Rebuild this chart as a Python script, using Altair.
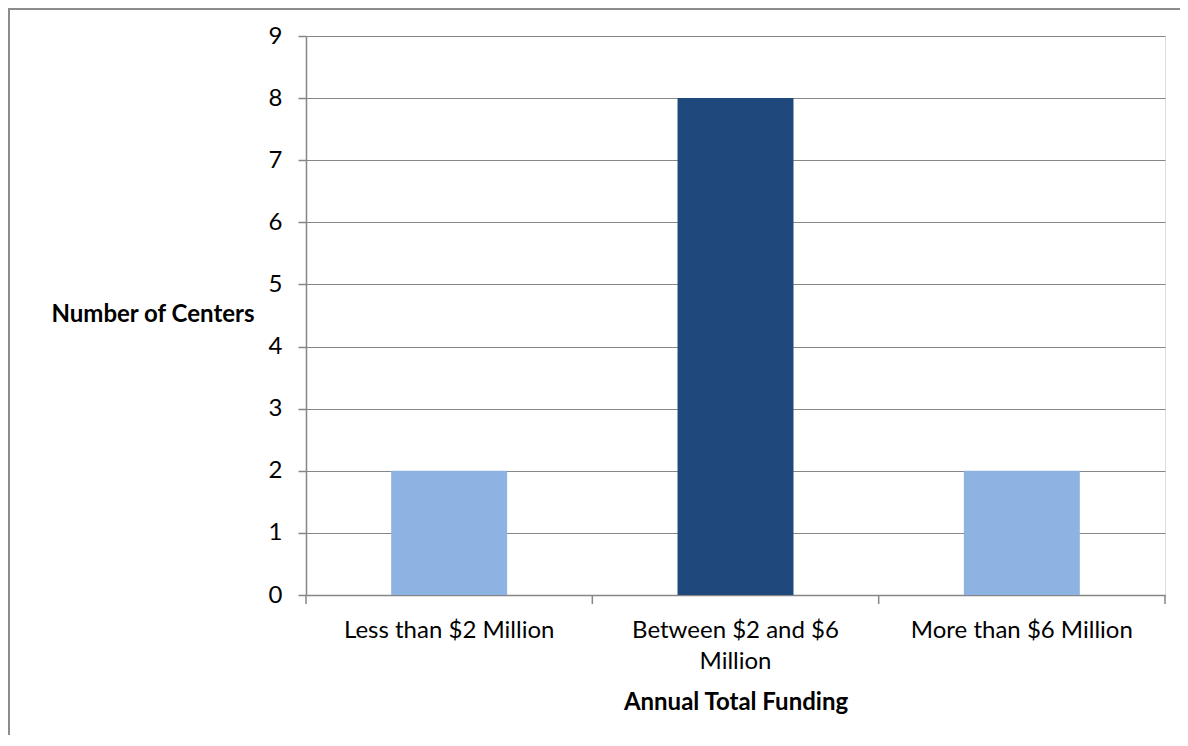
import altair as alt
import pandas as pd

categories = ["Less than $2 Million", "Between $2 and $6 Million", "More than $6 Million"]
centers = [2, 8, 2]
bar_colors = ["#8DB3E2", "#1F497D", "#8DB3E2"]
y_ticks = [0, 1, 2, 3, 4, 5, 6, 7, 8, 9]

df = pd.DataFrame({"funding": categories, "centers": centers, "color": bar_colors})

W, H = 859, 559
FONT = "Lato"
GRAY = "#868686"

x_scale = alt.Scale(domain=categories, paddingInner=0, paddingOuter=0)

label_expr = ("datum.label == 'Between $2 and $6 Million' ? "
              "['Between $2 and $6', 'Million'] : datum.label")

x_axis = alt.Axis(
    title="Annual Total Funding", labelAngle=0, ticks=False, tickSize=0,
    domain=True, domainColor=GRAY, domainWidth=1.5, grid=False,
    labelFont=FONT, labelFontSize=24, labelColor="black", labelPadding=23,
    labelBaseline="top", labelLineHeight=31, labelExpr=label_expr,
    labelLimit=400, labelOverlap=False, labelFlush=False,
    titleFont=FONT, titleFontSize=24, titleFontWeight="bold", titleColor="black",
    titleY=107, titleBaseline="middle")

bars = alt.Chart(df).mark_bar(width=alt.RelativeBandSize(0.405)).encode(
    x=alt.X("funding:N", scale=x_scale, sort=categories, axis=x_axis),
    y=alt.Y("centers:Q", scale=alt.Scale(domain=[0, 9], nice=False), axis=alt.Axis(
        values=y_ticks, tickSize=8, tickColor=GRAY, tickWidth=1.5,
        domainColor=GRAY, domainWidth=1.5, gridColor=GRAY, gridWidth=1.2,
        labelFont=FONT, labelFontSize=24, labelColor="black", labelPadding=16,
        title="Number of Centers", titleAngle=0, titleAlign="right",
        titleBaseline="middle", titleX=-52, titleY=278,
        titleFont=FONT, titleFontSize=24, titleFontWeight="bold", titleColor="black")),
    color=alt.Color("color:N", scale=None),
)

tick_rules = alt.Chart(df).mark_rule(color=GRAY, strokeWidth=1.5).encode(
    x=alt.X("funding:N", scale=x_scale, sort=categories, bandPosition=0, axis=x_axis),
    y=alt.value(H),
    y2=alt.value(H + 9),
)

end_tick = alt.Chart(alt.Data(values=[{}])).mark_rule(color=GRAY, strokeWidth=1.5).encode(
    x=alt.value(W), y=alt.value(H), y2=alt.value(H + 9)
)

frame = alt.Chart(alt.Data(values=[{}])).mark_rect(
    fillOpacity=0, stroke="#8c8c8c", strokeWidth=2
).encode(
    x=alt.value(-297), x2=alt.value(W + 60), y=alt.value(-27), y2=alt.value(H + 300)
)

chart = alt.layer(frame, bars, tick_rules, end_tick).properties(
    width=W, height=H,
    autosize=alt.AutoSizeParams(type="none"),
    padding={"left": 298, "top": 28, "right": 15, "bottom": 140},
).configure_view(stroke=None).configure(background="white")

chart.save("out.html", embed_options={"renderer": "svg", "actions": False})
